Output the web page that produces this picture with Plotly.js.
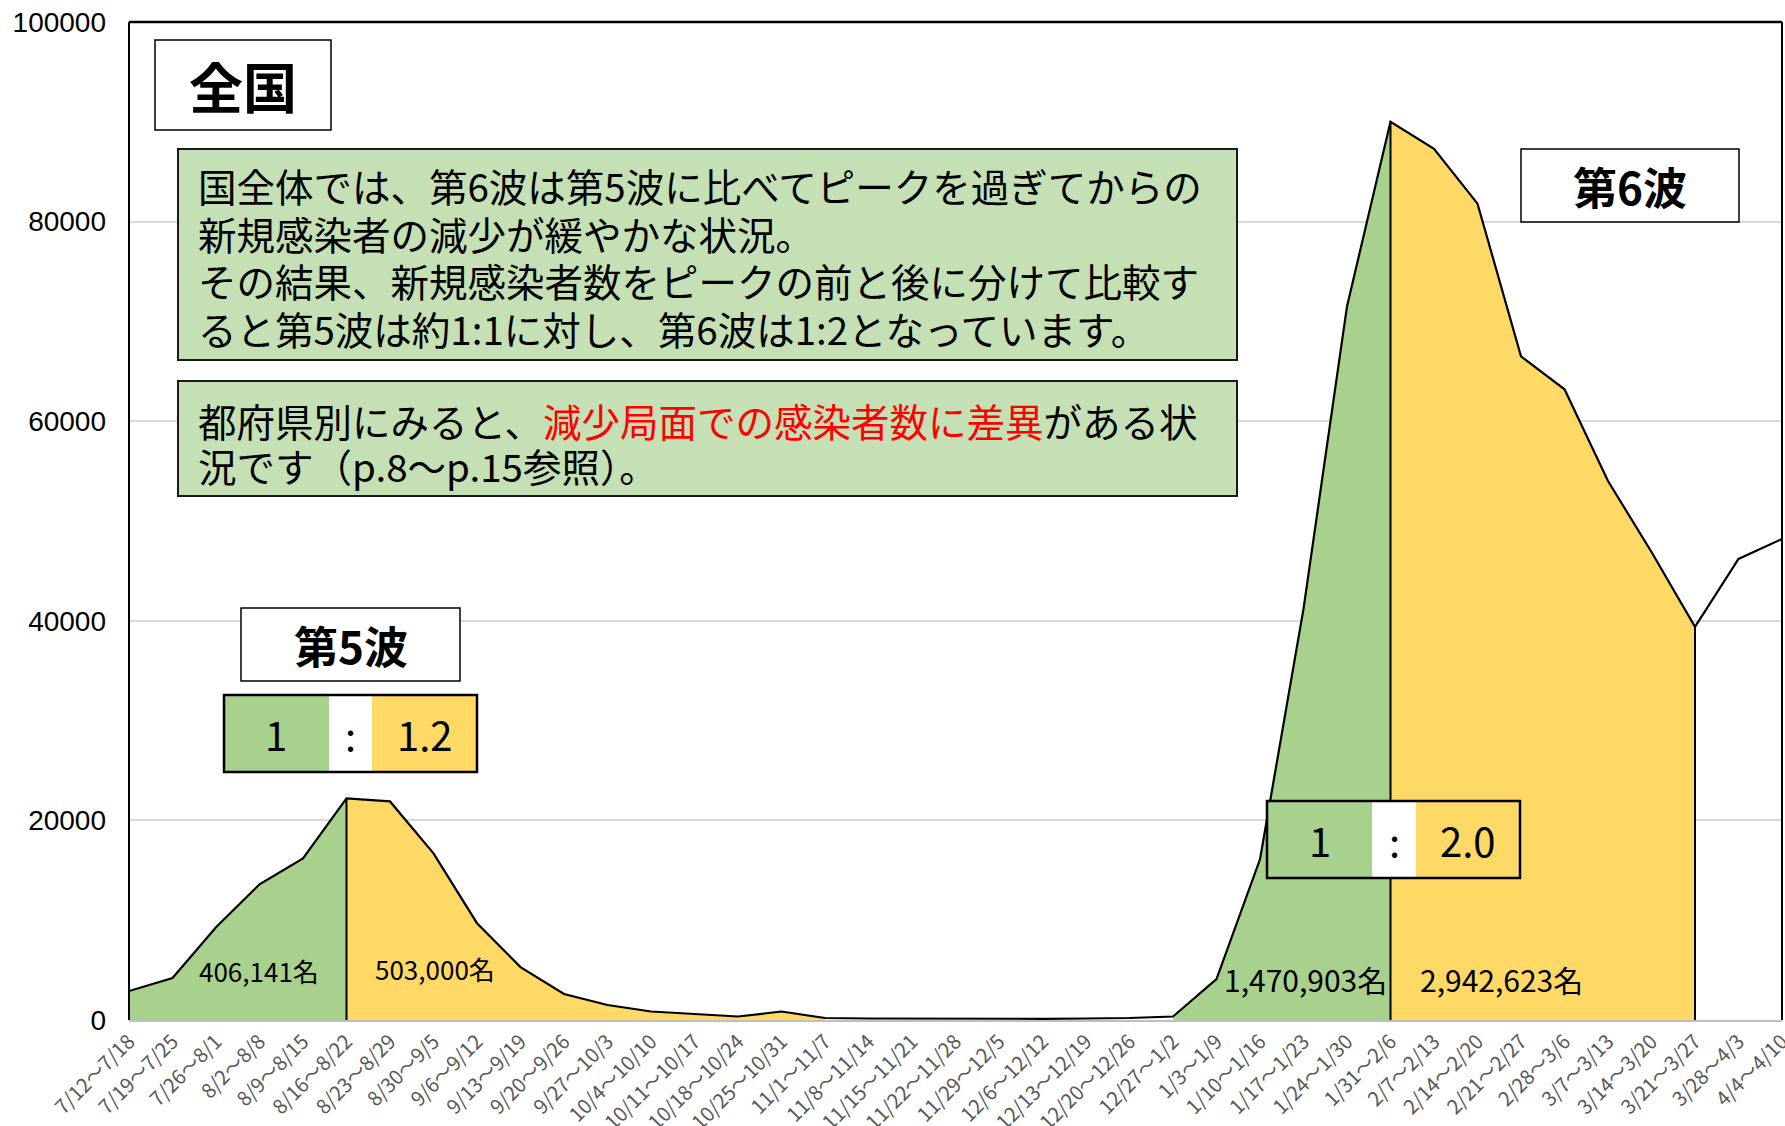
<!DOCTYPE html>
<html><head><meta charset="utf-8">
<script src="https://cdn.plot.ly/plotly-3.0.1.min.js"></script>
<style>html,body{margin:0;padding:0;background:#fff}#chart{width:1785px;height:1126px}</style>
</head><body><div id="chart"></div>
<script>
// ---------- data ----------
const weeks = ["7/12～7/18","7/19～7/25","7/26～8/1","8/2～8/8","8/9～8/15","8/16～8/22","8/23～8/29","8/30～9/5","9/6～9/12","9/13～9/19","9/20～9/26","9/27～10/3","10/4～10/10","10/11～10/17","10/18～10/24","10/25～10/31","11/1～11/7","11/8～11/14","11/15～11/21","11/22～11/28","11/29～12/5","12/6～12/12","12/13～12/19","12/20～12/26","12/27～1/2","1/3～1/9","1/10～1/16","1/17～1/23","1/24～1/30","1/31～2/6","2/7～2/13","2/14～2/20","2/21～2/27","2/28～3/6","3/7～3/13","3/14～3/20","3/21～3/27","3/28～4/3","4/4～4/10"];
const cases = [2900,4200,9300,13600,16200,22200,21900,16700,9700,5300,2600,1500,850,600,350,850,200,150,130,120,110,120,150,200,350,4100,16100,41200,71500,90000,87300,81800,66500,63200,54000,46900,39400,46200,48200];
const wave5Start = "7/12～7/18", wave5Peak = "8/16～8/22", wave5End = "11/1～11/7";
const wave6Start = "12/27～1/2", wave6Peak = "1/31～2/6", wave6End = "3/21～3/27";
const wave5Totals = ["406,141名", "503,000名"];
const wave6Totals = ["1,470,903名", "2,942,623名"];
const wave5Ratio = ["1", "1.2"];
const wave6Ratio = ["1", "2.0"];
const ratioSep = ":";
const yTicks = [0, 20000, 40000, 60000, 80000, 100000];
const regionLabel = "全国";
const waveNames = ["第5波", "第6波"];
const note1Lines = ["国全体では、第6波は第5波に比べてピークを過ぎてからの","新規感染者の減少が緩やかな状況。","その結果、新規感染者数をピークの前と後に分けて比較す","ると第5波は約1:1に対し、第6波は1:2となっています。"];
const note2Line1 = ["都府県別にみると、", "減少局面での感染者数に差異", "がある状"];
const note2Line2 = "況です（p.8～p.15参照）。";

// ---------- styling / geometry ----------
const GREEN = "#A9D18E", YELLOW = "#FFD966", NOTE = "#C5E0B4";
const L = 129, R = 1782, T = 22, B = 1020;
const px = v => (v - L) / (R - L);
const py = v => (B - v) / (B - T);
const JP = "Noto Sans CJK JP";

function seg(a, b) {
  const i = weeks.indexOf(a), j = weeks.indexOf(b);
  return { x: weeks.slice(i, j + 1), y: cases.slice(i, j + 1) };
}
function fillTrace(a, b, color) {
  const s = seg(a, b);
  return { type: "scatter", mode: "lines", x: s.x, y: s.y, fill: "tozeroy",
    fillcolor: color, line: { width: 0, color: color }, hoverinfo: "skip", showlegend: false };
}
function divider(w) {
  return { type: "scatter", mode: "lines", x: [w, w], y: [0, cases[weeks.indexOf(w)]],
    line: { color: "#000", width: 2 }, hoverinfo: "skip", showlegend: false };
}

const traces = [
  fillTrace(wave5Start, wave5Peak, GREEN),
  fillTrace(wave5Peak, wave5End, YELLOW),
  fillTrace(wave6Start, wave6Peak, GREEN),
  fillTrace(wave6Peak, wave6End, YELLOW),
  divider(wave5Peak), divider(wave6Peak), divider(wave6End),
  { type: "scatter", mode: "lines", x: weeks, y: cases, line: { color: "#000", width: 2.2 },
    hoverinfo: "skip", showlegend: false }
];

const shapes = [];
const annotations = [];
function rect(x0, y0, x1, y1, fill, lineColor, lw) {
  shapes.push({ type: "rect", xref: "paper", yref: "paper", x0: px(x0), x1: px(x1), y0: py(y1), y1: py(y0),
    fillcolor: fill, line: { color: lineColor || "rgba(0,0,0,0)", width: lineColor ? lw : 0 }, layer: "above" });
}
function text(t, x, y, size, opts) {
  opts = opts || {};
  annotations.push(Object.assign({ xref: "paper", yref: "paper", x: px(x), y: py(y), text: t, showarrow: false,
    xanchor: "center", yanchor: "middle", font: { family: JP, size: size, color: "#000" } }, opts));
}

// plot border (black left/top/right)
shapes.push({ type: "line", xref: "paper", yref: "paper", x0: 0, x1: 0, y0: 0, y1: 1, line: { color: "#000", width: 2 }, layer: "above" });
shapes.push({ type: "line", xref: "paper", yref: "paper", x0: 0, x1: 1, y0: 1, y1: 1, line: { color: "#000", width: 2.5 }, layer: "above" });
shapes.push({ type: "line", xref: "paper", yref: "paper", x0: 1, x1: 1, y0: 0, y1: 1, line: { color: "#000", width: 2 }, layer: "above" });

// region label
rect(155, 40, 331, 130, "#fff", "#000", 1.5);
text("<b>" + regionLabel + "</b>", 243, 86, 54);

// note box 1
rect(178, 149, 1237, 360, NOTE, "#1a1a1a", 2);
const n1y = [185, 232.5, 280, 328];
note1Lines.forEach((ln, i) => text(ln, 196, n1y[i], 38.5, { xanchor: "left" }));

// note box 2
rect(178, 381, 1237, 496, NOTE, "#1a1a1a", 2);
text(note2Line1[0] + '<span style="color:#FF0000">' + note2Line1[1] + "</span>" + note2Line1[2], 196, 420, 38.5, { xanchor: "left" });
text(note2Line2, 196, 465, 38.5, { xanchor: "left" });

// wave name boxes
rect(241, 608, 460, 681, "#fff", "#000", 1.5);
text("<b>" + waveNames[0] + "</b>", 350.5, 645, 44);
rect(1521, 149, 1739, 222, "#fff", "#000", 1.5);
text("<b>" + waveNames[1] + "</b>", 1630, 186, 44);

// ratio boxes
function ratioBox(x0, y0, x1, y1, g1, w1, vals, cx) {
  rect(x0, y0, g1, y1, GREEN);
  rect(g1, y0, w1, y1, "#fff");
  rect(w1, y0, x1, y1, YELLOW);
  rect(x0, y0, x1, y1, "rgba(0,0,0,0)", "#000", 2.5);
  const cy = (y0 + y1) / 2;
  text(vals[0], cx[0], cy, 40);
  text(ratioSep, cx[1], cy, 40);
  text(vals[1], cx[2], cy, 40);
}
ratioBox(224, 695, 477, 772, 329, 372, wave5Ratio, [276, 350, 425]);
ratioBox(1267, 801, 1520, 878, 1372, 1416, wave6Ratio, [1320, 1394, 1468]);

// totals
text(wave5Totals[0], 259, 970, 26);
text(wave5Totals[1], 435, 968, 26);
text(wave6Totals[0], 1305, 979, 30);
text(wave6Totals[1], 1501, 979, 30);

const layout = {
  width: 1785, height: 1126,
  margin: { l: L, r: 1785 - R, t: T, b: 1126 - B, pad: 0 },
  paper_bgcolor: "#fff", plot_bgcolor: "#fff",
  showlegend: false,
  xaxis: { type: "category", categoryorder: "array", categoryarray: weeks, range: [0, weeks.length - 1],
    tickangle: -45, tickfont: { family: JP, size: 20, color: "#595959" },
    showgrid: false, zeroline: false, showline: true, linecolor: "#BFBFBF", linewidth: 2,
    ticks: "", automargin: false, fixedrange: true },
  yaxis: { range: [0, 100000], tickvals: yTicks, ticktext: yTicks.map(String),
    showgrid: true, gridcolor: "#D9D9D9", gridwidth: 2, zeroline: false, showline: false,
    tickfont: { family: "Liberation Sans", size: 28, color: "#000" }, ticklabelstandoff: 22,
    ticks: "", automargin: false, fixedrange: true },
  shapes: shapes,
  annotations: annotations
};

Plotly.newPlot("chart", traces, layout, { displayModeBar: false, staticPlot: true });
</script>
</body></html>
